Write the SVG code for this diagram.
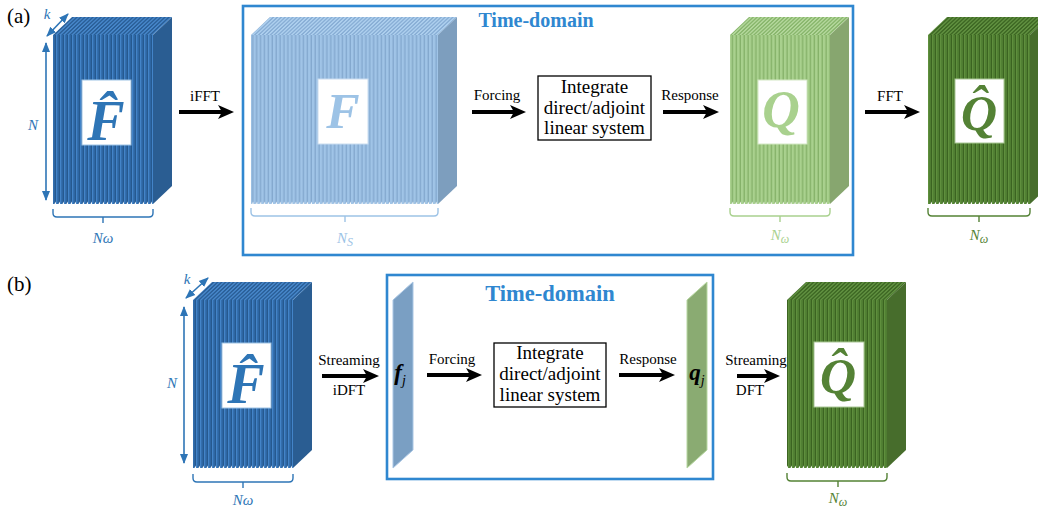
<svg xmlns="http://www.w3.org/2000/svg" width="1038" height="510" viewBox="0 0 1038 510" font-family="Liberation Serif, serif">
  <style>
    text { font-family: "Liberation Serif", "Times New Roman", serif; }
    .lbl { font-size: 15px; fill: #000; text-anchor: middle; }
    .box { fill: #fff; stroke: #000; stroke-width: 1.3; }
    .boxtxt { font-size: 19px; fill: #000; text-anchor: middle; }
    .frame { fill: none; stroke: #2f87d0; stroke-width: 2.6; }
    .title { font-weight: bold; fill: #2f87d0; text-anchor: middle; }
    .arrow { stroke: #000; stroke-width: 4; fill: none; marker-end: url(#ah); }
    .dim { stroke: #2e75b6; stroke-width: 1.6; fill: none; marker-start: url(#bh); marker-end: url(#bh); }
    .dimtxt { font-size: 15px; font-style: italic; fill: #2e75b6; text-anchor: middle; }
    .brace { fill: none; stroke-width: 1.4; }
    .sym { font-style: italic; font-weight: bold; text-anchor: middle; }
    .tag { font-size: 21px; fill: #000; }
    .card { fill: #fff; stroke-width: 1; }
  </style>
  <defs>
    <!-- thick black connector head -->
    <marker id="ah" markerUnits="userSpaceOnUse" markerWidth="17" markerHeight="17" viewBox="0 0 17 17" refX="6" refY="8.5" orient="auto">
      <path d="M0,1.5 L16,8.5 L0,15.5 L4,8.5 z" fill="#000"/>
    </marker>
    <!-- small blue dimension head -->
    <marker id="bh" markerUnits="userSpaceOnUse" markerWidth="10" markerHeight="10" viewBox="0 0 10 10" refX="9" refY="5" orient="auto-start-reverse">
      <path d="M0,1 L10,5 L0,9 z" fill="#2e75b6"/>
    </marker>

    <!-- front faces: edges of thin plates -->
    <pattern id="f-db" patternUnits="userSpaceOnUse" width="4" height="8">
      <rect width="4" height="8" fill="#2d66a3"/><rect x="0" width="1.3" height="8" fill="#4384c8"/><rect x="3.2" width="0.8" height="8" fill="#24558a"/>
    </pattern>
    <pattern id="f-lb" patternUnits="userSpaceOnUse" width="3.9" height="8">
      <rect width="3.9" height="8" fill="#a0c4e7"/><rect x="2.5" width="1.4" height="8" fill="#84a9cf"/>
    </pattern>
    <pattern id="f-lg" patternUnits="userSpaceOnUse" width="3.9" height="8">
      <rect width="3.9" height="8" fill="#a9d18e"/><rect x="2.5" width="1.4" height="8" fill="#86b26a"/>
    </pattern>
    <pattern id="f-dg" patternUnits="userSpaceOnUse" width="4" height="8">
      <rect width="4" height="8" fill="#4f7d31"/><rect x="0" width="1.2" height="8" fill="#5f8f3d"/><rect x="3" width="1" height="8" fill="#3b6421"/>
    </pattern>

    <!-- top faces: same plates seen from above -->
    <pattern id="t-db" patternUnits="userSpaceOnUse" width="4" height="8" patternTransform="skewX(-46.5)">
      <rect width="4" height="8" fill="#2a5f98"/><rect width="2" height="8" fill="#4686c9"/>
    </pattern>
    <pattern id="t-lb" patternUnits="userSpaceOnUse" width="3.9" height="8" patternTransform="skewX(-46.5)">
      <rect width="3.9" height="8" fill="#88aed5"/><rect width="2" height="8" fill="#adcfee"/>
    </pattern>
    <pattern id="t-lg" patternUnits="userSpaceOnUse" width="3.9" height="8" patternTransform="skewX(-46.5)">
      <rect width="3.9" height="8" fill="#88b66c"/><rect width="2" height="8" fill="#b3d79b"/>
    </pattern>
    <pattern id="t-dg" patternUnits="userSpaceOnUse" width="4" height="8" patternTransform="skewX(-46.5)">
      <rect width="4" height="8" fill="#3e6824"/><rect width="2" height="8" fill="#609040"/>
    </pattern>

    <!-- serrated lower edge of the plates -->
    <pattern id="teeth" patternUnits="userSpaceOnUse" width="4" height="4">
      <polygon points="2.4,4 4,4 4,1.6" fill="#fff"/>
    </pattern>
    <pattern id="teeth-l" patternUnits="userSpaceOnUse" width="3.9" height="4">
      <polygon points="2.3,4 3.9,4 3.9,1.6" fill="#fff"/>
    </pattern>
  </defs>

  <!-- panel tags -->
  <text class="tag" x="7" y="23">(a)</text>
  <text class="tag" x="7" y="291">(b)</text>

  <!-- time-domain frames -->
  <g id="frame-a">
    <rect class="frame" x="243" y="6" width="610" height="249"/>
    <text class="title" x="536" y="27" font-size="20">Time-domain</text>
  </g>
  <g id="frame-b">
    <rect class="frame" x="387" y="275" width="326" height="204"/>
    <text class="title" x="550" y="301" font-size="22.5">Time-domain</text>
  </g>

  <!-- (a) frequency-domain forcing block -->
  <g id="a-Fhat">
    <polygon points="53,35 153,35 172,17 72,17" fill="url(#t-db)"/>
    <rect x="53" y="35" width="100" height="169" fill="url(#f-db)"/>
    <rect x="53" y="200" width="100" height="4" fill="url(#teeth)"/>
    <polygon points="153,35 172,17 172,186 153,204" fill="#2a5d92"/>
    <rect class="card" x="82" y="80" width="49" height="65" stroke="#9dc3e6"/>
    <text class="sym" x="106" y="140" font-size="56" fill="#2e75b6">F̂</text>
    <line class="dim" x1="46" y1="43" x2="46" y2="200"/>
    <text class="dimtxt" x="33" y="130">N</text>
    <line class="dim" x1="47" y1="36" x2="68" y2="14"/>
    <text class="dimtxt" x="47" y="19" font-size="13">k</text>
    <path class="brace" stroke="#2e75b6" d="M53,209 v4 q0,4 4,4 H149 q4,0 4,-4 v-4 M103,217 v6"/>
    <text class="dimtxt" x="103" y="243">Nω</text>
  </g>

  <!-- (a) time-domain forcing block -->
  <g id="a-F">
    <polygon points="251,35 438,35 457,17 270,17" fill="url(#t-lb)"/>
    <rect x="251" y="35" width="187" height="169" fill="url(#f-lb)"/>
    <rect x="251" y="200" width="187" height="4" fill="url(#teeth-l)"/>
    <polygon points="438,35 457,17 457,186 438,204" fill="#7d9ebe"/>
    <rect class="card" x="318" y="79" width="50" height="65" stroke="#c9dcef"/>
    <text class="sym" x="343" y="128" font-size="50" fill="#9dc3e6">F</text>
    <path class="brace" stroke="#9dc3e6" d="M251,208 v4 q0,4 4,4 H434 q4,0 4,-4 v-4 M345,216 v6"/>
    <text class="dimtxt" x="345" y="243" style="fill:#9dc3e6">N<tspan font-size="12" dy="3">S</tspan></text>
  </g>

  <!-- (a) integrator -->
  <g id="a-integrator">
    <rect class="box" x="538" y="76" width="113" height="64"/>
    <text class="boxtxt" x="594.5" y="93">Integrate</text>
    <text class="boxtxt" x="594.5" y="114">direct/adjoint</text>
    <text class="boxtxt" x="594.5" y="134">linear system</text>
  </g>

  <!-- (a) time-domain response block -->
  <g id="a-Q">
    <polygon points="730,35 830,35 849,17 749,17" fill="url(#t-lg)"/>
    <rect x="730" y="35" width="100" height="169" fill="url(#f-lg)"/>
    <rect x="730" y="200" width="100" height="4" fill="url(#teeth-l)"/>
    <polygon points="830,35 849,17 849,186 830,204" fill="#87a66f"/>
    <rect class="card" x="758" y="80" width="49" height="64" stroke="#d3e8c4"/>
    <text class="sym" x="781" y="127" font-size="52" fill="#a9d18e">Q</text>
    <path class="brace" stroke="#a9d18e" d="M730,208 v4 q0,4 4,4 H826 q4,0 4,-4 v-4 M780,216 v6"/>
    <text class="dimtxt" x="780" y="240" style="fill:#a9d18e">N<tspan font-size="12" dy="3">ω</tspan></text>
  </g>

  <!-- (a) frequency-domain response block -->
  <g id="a-Qhat">
    <polygon points="928,35 1030,35 1049,17 947,17" fill="url(#t-dg)"/>
    <rect x="928" y="35" width="102" height="169" fill="url(#f-dg)"/>
    <rect x="928" y="200" width="102" height="4" fill="url(#teeth)"/>
    <polygon points="1030,35 1049,17 1049,186 1030,204" fill="#476d2c"/>
    <rect class="card" x="955" y="79" width="49" height="64" stroke="#a9c795"/>
    <text class="sym" x="979" y="130" font-size="50" fill="#548235">Q̂</text>
    <path class="brace" stroke="#548235" d="M928,208 v4 q0,4 4,4 H1026 q4,0 4,-4 v-4 M979,216 v6"/>
    <text class="dimtxt" x="979" y="240" style="fill:#548235">N<tspan font-size="12" dy="3">ω</tspan></text>
  </g>

  <!-- (b) frequency-domain forcing block -->
  <g id="b-Fhat">
    <polygon points="193,300 293,300 312,282 212,282" fill="url(#t-db)"/>
    <rect x="193" y="300" width="100" height="168" fill="url(#f-db)"/>
    <rect x="193" y="464" width="100" height="4" fill="url(#teeth)"/>
    <polygon points="293,300 312,282 312,450 293,468" fill="#2a5d92"/>
    <rect class="card" x="222" y="343" width="49" height="65" stroke="#9dc3e6"/>
    <text class="sym" x="246" y="403" font-size="56" fill="#2e75b6">F̂</text>
    <line class="dim" x1="184" y1="307" x2="184" y2="463"/>
    <text class="dimtxt" x="172" y="388">N</text>
    <line class="dim" x1="186" y1="298" x2="208" y2="278"/>
    <text class="dimtxt" x="187" y="284" font-size="13">k</text>
    <path class="brace" stroke="#2e75b6" d="M193,474 v4 q0,4 4,4 H289 q4,0 4,-4 v-4 M243,482 v6"/>
    <text class="dimtxt" x="243" y="505">Nω</text>
  </g>

  <!-- (b) single forcing snapshot -->
  <g id="b-f">
    <polygon points="393,300 413,282 413,450 393,468" fill="#7a9fc3" stroke="#a9c6e4" stroke-width="1"/>
    <text x="400" y="380" font-size="23" font-weight="bold" font-style="italic" fill="#000" text-anchor="middle">f<tspan font-size="14" font-weight="normal" dy="5">j</tspan></text>
  </g>

  <!-- (b) integrator -->
  <g id="b-integrator">
    <rect class="box" x="494" y="343" width="112" height="64"/>
    <text class="boxtxt" x="550" y="359">Integrate</text>
    <text class="boxtxt" x="550" y="380">direct/adjoint</text>
    <text class="boxtxt" x="550" y="401">linear system</text>
  </g>

  <!-- (b) single response snapshot -->
  <g id="b-q">
    <polygon points="687,300 707,282 707,450 687,468" fill="#8aab72" stroke="#b7d7a1" stroke-width="1"/>
    <text x="697" y="380" font-size="23" font-weight="bold" font-style="italic" fill="#000" text-anchor="middle">q<tspan font-size="14" font-weight="normal" dy="5">j</tspan></text>
  </g>

  <!-- (b) frequency-domain response block -->
  <g id="b-Qhat">
    <polygon points="787,300 887,300 906,282 806,282" fill="url(#t-dg)"/>
    <rect x="787" y="300" width="100" height="168" fill="url(#f-dg)"/>
    <rect x="787" y="464" width="100" height="4" fill="url(#teeth)"/>
    <polygon points="887,300 906,282 906,450 887,468" fill="#476d2c"/>
    <rect class="card" x="814" y="342" width="50" height="65" stroke="#a9c795"/>
    <text class="sym" x="838" y="393" font-size="50" fill="#548235">Q̂</text>
    <path class="brace" stroke="#548235" d="M787,473 v4 q0,4 4,4 H883 q4,0 4,-4 v-4 M838,481 v6"/>
    <text class="dimtxt" x="838" y="503" style="fill:#548235">N<tspan font-size="12" dy="3">ω</tspan></text>
  </g>

  <!-- connectors -->
  <g id="connectors">
    <line class="arrow" x1="179" y1="112" x2="224" y2="112"/>
    <text class="lbl" x="205" y="101">iFFT</text>
    <line class="arrow" x1="472" y1="112" x2="516" y2="112"/>
    <text class="lbl" x="497" y="100">Forcing</text>
    <line class="arrow" x1="663" y1="112" x2="709" y2="112"/>
    <text class="lbl" x="690" y="100">Response</text>
    <line class="arrow" x1="865" y1="112" x2="910" y2="112"/>
    <text class="lbl" x="890" y="101">FFT</text>

    <line class="arrow" x1="322" y1="376" x2="369" y2="376"/>
    <text class="lbl" x="349" y="365">Streaming</text>
    <text class="lbl" x="349" y="395">iDFT</text>
    <line class="arrow" x1="427" y1="375" x2="472" y2="375"/>
    <text class="lbl" x="452" y="364">Forcing</text>
    <line class="arrow" x1="619" y1="375" x2="665" y2="375"/>
    <text class="lbl" x="648" y="364">Response</text>
    <line class="arrow" x1="737" y1="376" x2="770" y2="376"/>
    <text class="lbl" x="756" y="365">Streaming</text>
    <text class="lbl" x="750" y="395">DFT</text>
  </g>
</svg>
